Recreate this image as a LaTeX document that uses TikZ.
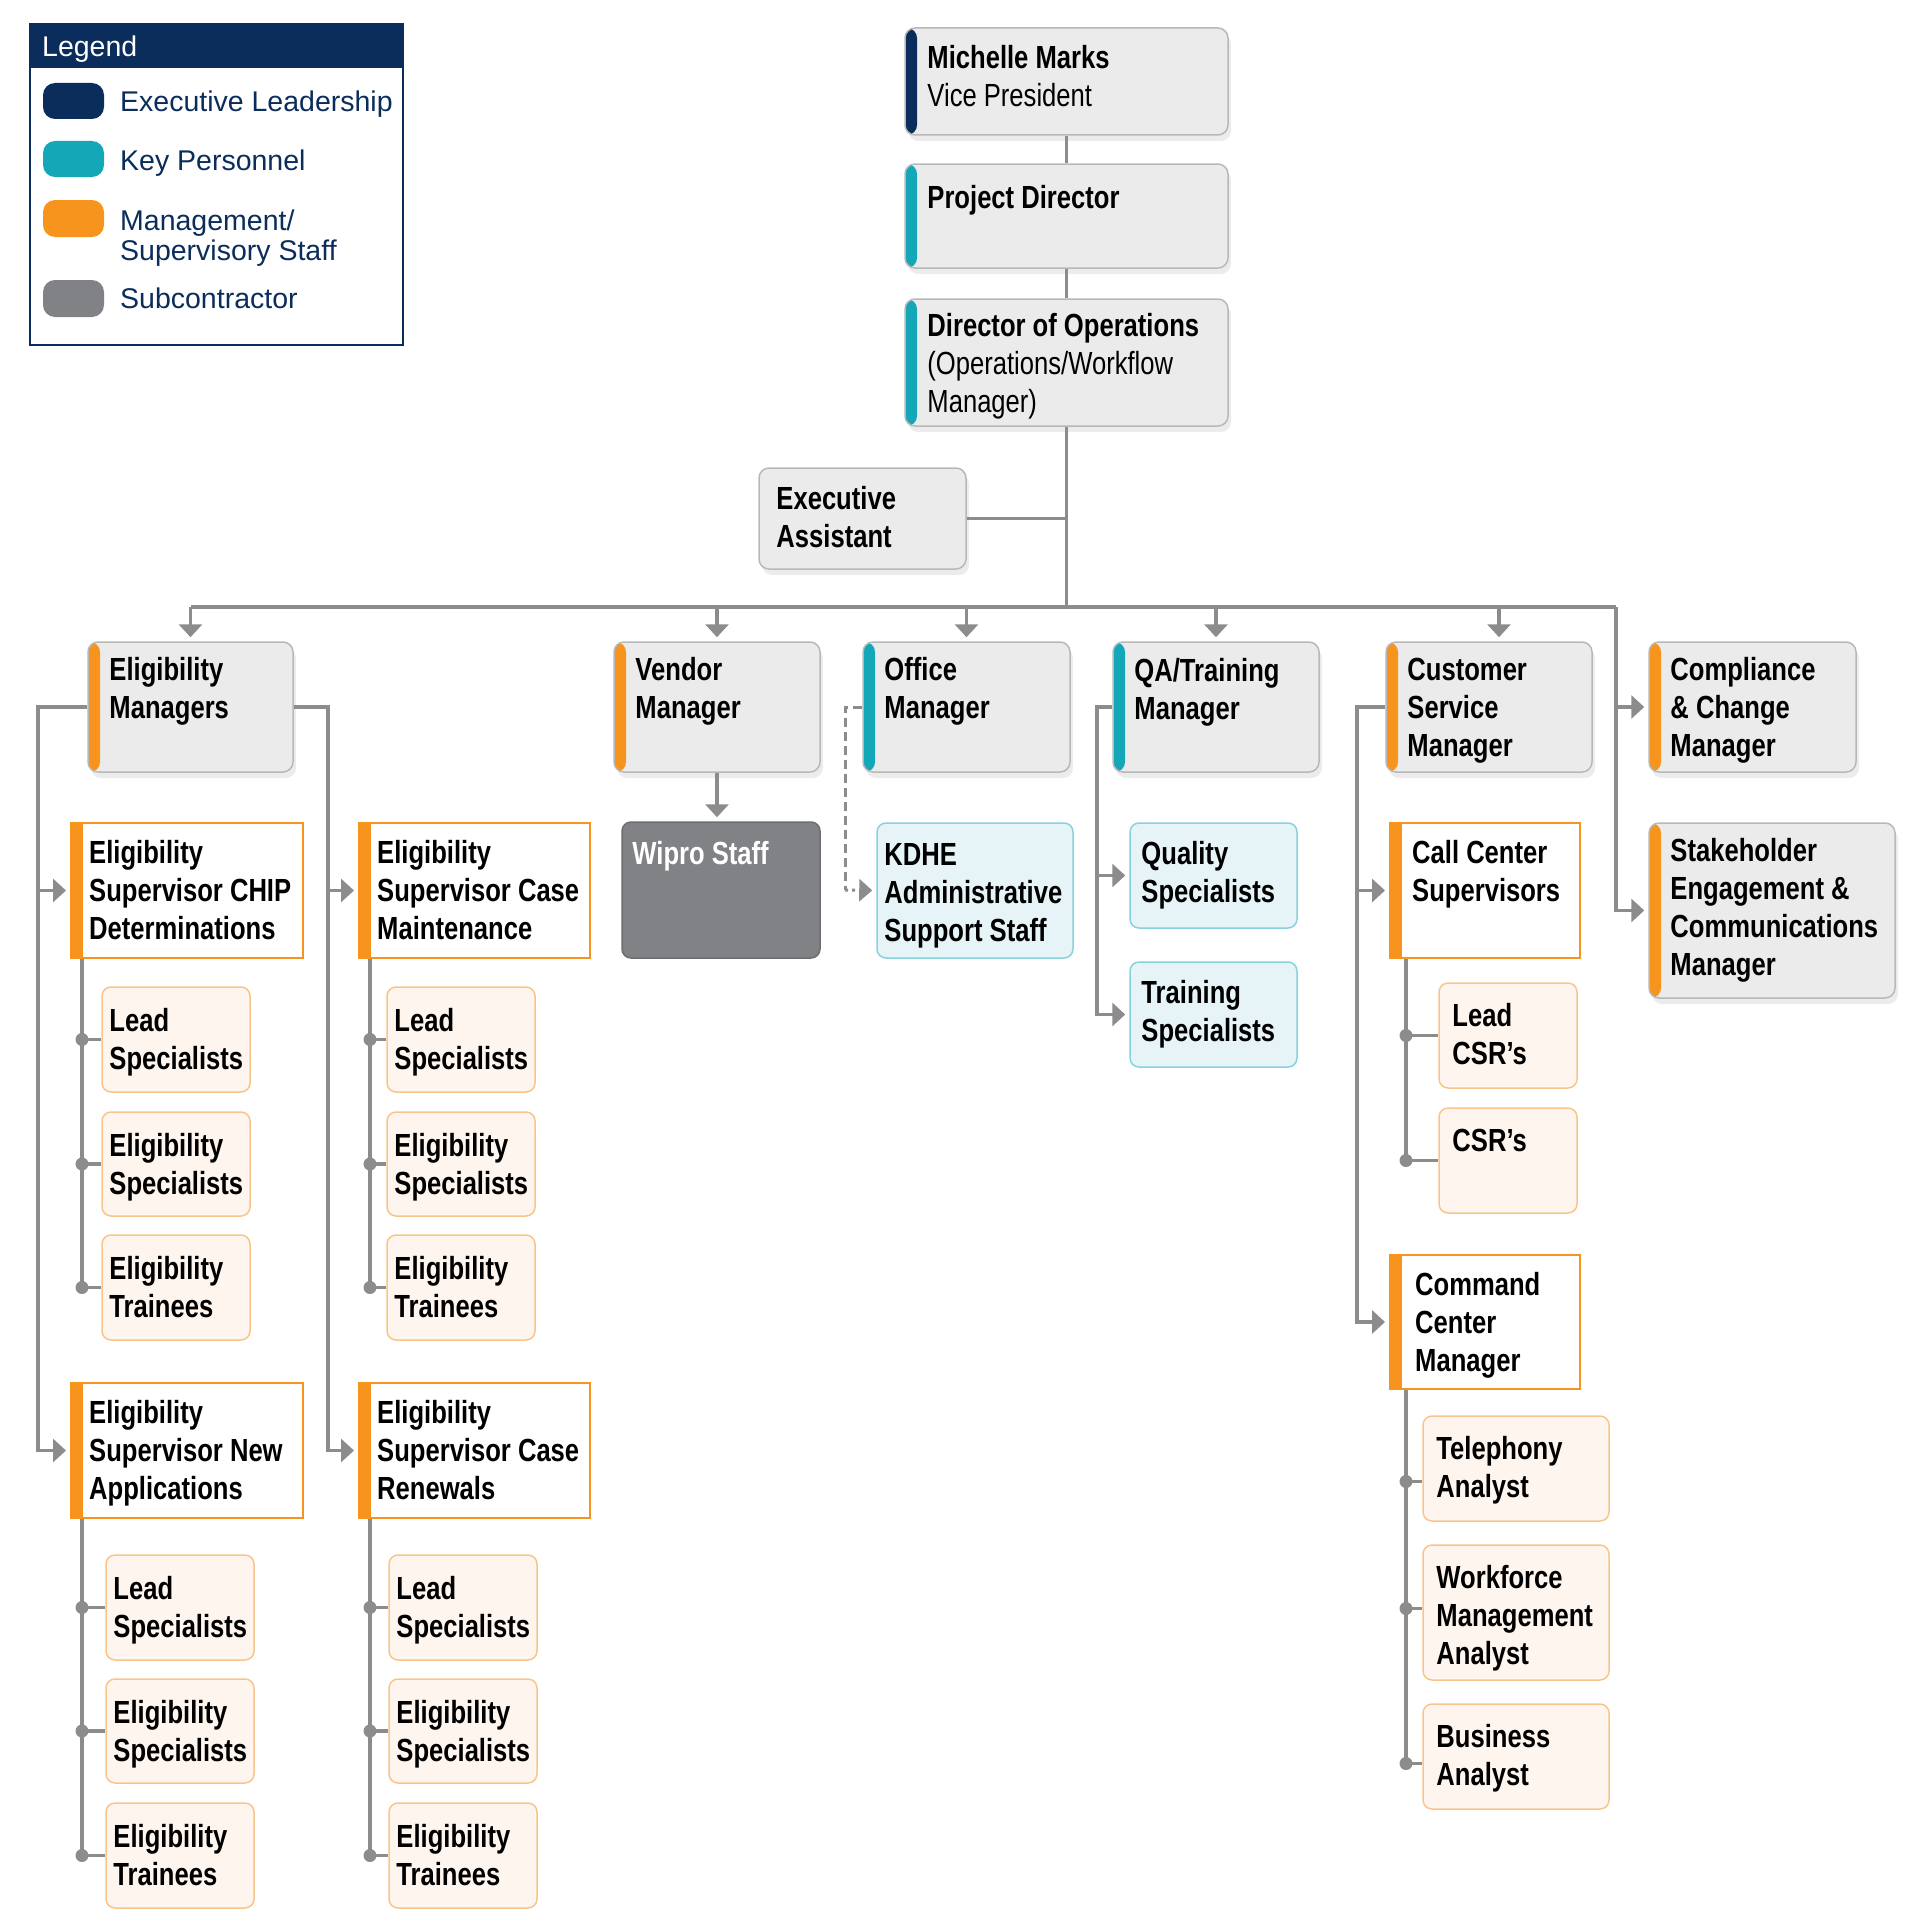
\documentclass[tikz,border=0pt]{standalone}
\usepackage{fontspec}
\setmainfont{Liberation Sans}[FakeStretch=0.8]
\newfontfamily\legfont{Liberation Sans}
\usetikzlibrary{arrows.meta,shadows,fit,calc}
\definecolor{navy}{HTML}{0B2D5B}
\definecolor{teal}{HTML}{13A7B8}
\definecolor{orng}{HTML}{F7941D}
\definecolor{subgray}{HTML}{808285}
\definecolor{subedge}{HTML}{6D6E70}
\definecolor{lgray}{HTML}{8C8C8C}
\definecolor{boxgray}{HTML}{EBEBEB}
\definecolor{boxedge}{HTML}{B8B8B8}
\definecolor{leaffill}{HTML}{FEF6EE}
\definecolor{leafedge}{HTML}{F9C48B}
\definecolor{bluefill}{HTML}{E6F4F8}
\definecolor{blueedge}{HTML}{86D3DD}
\newcommand\fstrut{\rule{0pt}{26pt}}
\newcommand\obox[9]{%
  \node[#1, fit={(#3,#4) (#5,#6)}] (#2) {};
  \node[txt] (#2t) at ([xshift=#7pt,yshift=-#8pt]#2.north west) {\fstrut #9};}
\begin{document}
\begin{tikzpicture}[x=1pt,y=-1pt,
  txt/.style={anchor=north west, inner sep=0pt, align=left, font=\bfseries\fontsize{32}{38}\selectfont, text=black},
  leftbar/.style={path picture={\fill[#1] (path picture bounding box.north west) rectangle ([xshift=12pt]path picture bounding box.south west);}},
  gb/.style={rounded corners=10pt, fill=boxgray, draw=boxedge, line width=1.5pt, inner sep=0pt,
     drop shadow={shadow xshift=3pt, shadow yshift=-6pt, opacity=0.15}},
  sb/.style={fill=white, draw=orng, line width=2pt, inner sep=0pt, leftbar=orng},
  lb/.style={rounded corners=9pt, fill=leaffill, draw=leafedge, line width=1.5pt, inner sep=0pt},
  bb/.style={rounded corners=9pt, fill=bluefill, draw=blueedge, line width=1.5pt, inner sep=0pt},
  wb/.style={rounded corners=9pt, fill=subgray, draw=subedge, line width=1.5pt, inner sep=0pt},
  conn/.style={draw=lgray, line width=3.8pt},
  arr/.style={conn, -{Triangle[width=23pt,length=13pt]}, shorten >=4pt},
  dsh/.style={draw=lgray, line width=3pt, dash pattern=on 9pt off 5pt},
  dta/.style={draw=lgray, line width=3pt, dash pattern=on 3pt off 4pt, -{Triangle[width=22pt,length=13pt]}, shorten >=4pt},
  dot/.style={fill=lgray},
  legt/.style={font=\legfont\fontsize{28.5}{30}\selectfont, text=navy, inner sep=0pt, align=left},
  sw/.style={rounded corners=12pt, inner sep=0pt}
]
\useasboundingbox (0,0) rectangle (1920,1932);

% ---------- Legend ----------
\node[draw=navy, line width=2pt, fill=white, inner sep=0pt, fit={(30,24) (403,345)}] (leg) {};
\node[fill=navy, inner sep=0pt, fit={(30,24) (403,68)}] (leghead) {};
\node[legt, text=white, anchor=base west] (legtitle) at (42,57) {Legend};
\node[sw, fill=navy, fit={(43,83) (104,119)}] (sw1) {};
\node[sw, fill=teal, fit={(43,141) (104,177)}] (sw2) {};
\node[sw, fill=orng, fit={(43,200) (104,237)}] (sw3) {};
\node[sw, fill=subgray, fit={(43,280) (104,317)}] (sw4) {};
\node[legt, anchor=base west] (lt1) at (120,112) {Executive Leadership};
\node[legt, anchor=base west] (lt2) at (120,170) {Key Personnel};
\node[legt, anchor=north west] (lt3) at (120,207) {\rule{0pt}{23pt}Management/\\Supervisory Staff};
\node[legt, anchor=base west] (lt4) at (120,308) {Subcontractor};

% ---------- Top chain ----------
\obox{gb,leftbar=navy}{vp}{905}{28}{1228}{135}{23}{15}{Michelle Marks\\{\mdseries Vice President}}
\obox{gb,leftbar=teal}{pd}{905}{164}{1228}{268}{23}{19}{Project Director}
\obox{gb,leftbar=teal}{dops}{905}{299}{1228}{426}{23}{12}{Director of Operations\\{\mdseries (Operations/Workflow}\\{\mdseries Manager)}}
\obox{gb}{ea}{759}{468}{966}{569}{18}{16}{Executive\\Assistant}

% ---------- Manager row ----------
\obox{gb,leftbar=orng}{em}{88}{642}{293}{772}{22}{13}{Eligibility\\Managers}
\obox{gb,leftbar=orng}{vm}{614}{642}{820}{772}{22}{13}{Vendor\\Manager}
\obox{gb,leftbar=teal}{om}{863}{642}{1070}{772}{22}{13}{Office\\Manager}
\obox{gb,leftbar=teal}{qa}{1113}{642}{1319}{772}{22}{14}{QA/Training\\Manager}
\obox{gb,leftbar=orng}{csm}{1386}{642}{1592}{772}{22}{13}{Customer\\Service\\Manager}
\obox{gb,leftbar=orng}{ccm}{1649}{642}{1856}{772}{22}{13}{Compliance\\\& Change\\Manager}
\obox{gb,leftbar=orng}{sem}{1649}{823}{1895}{998}{22}{13}{Stakeholder\\Engagement \&\\Communications\\Manager}

% ---------- Supervisors ----------
\obox{sb}{chip}{71}{823}{303}{958}{19}{15}{Eligibility\\Supervisor CHIP\\Determinations}
\obox{sb}{cmaint}{359}{823}{590}{958}{19}{15}{Eligibility\\Supervisor Case\\Maintenance}
\obox{sb}{napp}{71}{1383}{303}{1518}{19}{15}{Eligibility\\Supervisor New\\Applications}
\obox{sb}{cren}{359}{1383}{590}{1518}{19}{15}{Eligibility\\Supervisor Case\\Renewals}
\obox{sb}{ccs}{1390}{823}{1580}{958}{23}{15}{Call Center\\Supervisors}
\obox{sb}{cmd}{1390}{1255}{1580}{1389}{26}{15}{Command\\Center\\Manager}

% ---------- Leaves ----------
\obox{lb}{l1a}{102}{987}{250}{1092}{8}{19}{Lead\\Specialists}
\obox{lb}{l1b}{102}{1112}{250}{1216}{8}{19}{Eligibility\\Specialists}
\obox{lb}{l1c}{102}{1235}{250}{1340}{8}{19}{Eligibility\\Trainees}
\obox{lb}{l2a}{387}{987}{535}{1092}{8}{19}{Lead\\Specialists}
\obox{lb}{l2b}{387}{1112}{535}{1216}{8}{19}{Eligibility\\Specialists}
\obox{lb}{l2c}{387}{1235}{535}{1340}{8}{19}{Eligibility\\Trainees}
\obox{lb}{l3a}{106}{1555}{254}{1660}{8}{19}{Lead\\Specialists}
\obox{lb}{l3b}{106}{1679}{254}{1783}{8}{19}{Eligibility\\Specialists}
\obox{lb}{l3c}{106}{1803}{254}{1908}{8}{19}{Eligibility\\Trainees}
\obox{lb}{l4a}{389}{1555}{537}{1660}{8}{19}{Lead\\Specialists}
\obox{lb}{l4b}{389}{1679}{537}{1783}{8}{19}{Eligibility\\Specialists}
\obox{lb}{l4c}{389}{1803}{537}{1908}{8}{19}{Eligibility\\Trainees}
\obox{lb}{lcsr}{1439}{983}{1577}{1088}{14}{18}{Lead\\CSR’s}
\obox{lb}{csr}{1439}{1108}{1577}{1213}{14}{18}{CSR’s}
\obox{lb}{tel}{1423}{1416}{1609}{1521}{14}{18}{Telephony\\Analyst}
\obox{lb}{wfm}{1423}{1545}{1609}{1680}{14}{18}{Workforce\\Management\\Analyst}
\obox{lb}{ban}{1423}{1704}{1609}{1809}{14}{18}{Business\\Analyst}

% ---------- Other staff ----------
\obox{wb}{wipro}{622}{822}{820}{958}{11}{17}{\textcolor{white}{Wipro Staff}}
\obox{bb}{kdhe}{877}{823}{1073}{958}{8}{17}{KDHE\\Administrative\\Support Staff}
\obox{bb}{qs}{1130}{823}{1297}{928}{12}{16}{Quality\\Specialists}
\obox{bb}{ts}{1130}{962}{1297}{1067}{12}{16}{Training\\Specialists}

% ---------- Connectors: top ----------
\coordinate (busy) at (0,607);
\coordinate (busL) at (191,607);
\coordinate (busR) at (1616,607);
\draw[conn] (vp.south) -- (pd.north);
\draw[conn] (pd.south) -- (dops.north);
\draw[conn] (dops.south) -- (dops.south |- busy);
\draw[conn] (ea.east) -- (ea.east -| dops.south);
\draw[conn] (busL) -- (busR);
\draw[arr] (em.north |- busy) -- (em.north);
\draw[arr] (vm.north |- busy) -- (vm.north);
\draw[arr] (om.north |- busy) -- (om.north);
\draw[arr] (qa.north |- busy) -- (qa.north);
\coordinate (csmN) at ([xshift=10pt]csm.north);
\draw[arr] (csmN |- busy) -- (csmN);
\draw[arr] (busR) |- (ccm.west);
\draw[arr] (busR) |- (sem.west);

% ---------- Eligibility branches ----------
\coordinate (emL) at (38,707);
\coordinate (emR) at (328,707);
\draw[arr] (em.west) -- (emL) |- (napp.west);
\draw[arr] (emL |- chip.west) -- (chip.west);
\draw[arr] (em.east) -- (emR) |- (cren.west);
\draw[arr] (emR |- cmaint.west) -- (cmaint.west);

\coordinate (chipS) at ([xshift=12pt]chip.south west);
\coordinate (cmaintS) at ([xshift=12pt]cmaint.south west);
\coordinate (nappS) at ([xshift=12pt]napp.south west);
\coordinate (crenS) at ([xshift=12pt]cren.south west);
\draw[conn] (chipS) -- (chipS |- l1c.west);
\draw[conn] (cmaintS) -- (cmaintS |- l2c.west);
\draw[conn] (nappS) -- (nappS |- l3c.west);
\draw[conn] (crenS) -- (crenS |- l4c.west);
\foreach \s/\l in {chipS/l1a,chipS/l1b,chipS/l1c,cmaintS/l2a,cmaintS/l2b,cmaintS/l2c,nappS/l3a,nappS/l3b,nappS/l3c,crenS/l4a,crenS/l4b,crenS/l4c}{
  \draw[conn] (\s |- \l.west) -- (\l.west);
  \fill[dot] (\s |- \l.west) circle (6.5pt);
}

% ---------- Vendor / Office / QA ----------
\draw[arr] (vm.south) -- (vm.south |- wipro.north);
\coordinate (omD) at (845,707);
\coordinate (kd) at (845,890);
\draw[dsh] (om.west) -- (omD) -- (kd);
\draw[dta] (kd) -- (kdhe.west);
\coordinate (qaL) at (1097,707);
\draw[arr] (qa.west) -- (qaL) |- (ts.west);
\draw[arr] (qaL |- qs.west) -- (qs.west);

% ---------- Customer service ----------
\coordinate (csL) at (1357,707);
\draw[arr] (csm.west) -- (csL) |- (cmd.west);
\draw[arr] (csL |- ccs.west) -- (ccs.west);
\coordinate (ccsS) at ([xshift=17pt]ccs.south west);
\coordinate (cmdS) at ([xshift=17pt]cmd.south west);
\coordinate (telD) at ([yshift=-13pt]tel.west);
\coordinate (wfmD) at ([yshift=4pt]wfm.west);
\coordinate (banD) at ([yshift=-7pt]ban.west);
\draw[conn] (ccsS) -- (ccsS |- csr.west);
\draw[conn] (cmdS) -- (cmdS |- banD);
\foreach \s/\l in {ccsS/lcsr.west,ccsS/csr.west,cmdS/telD,cmdS/wfmD,cmdS/banD}{
  \draw[conn] (\s |- \l) -- (\l);
  \fill[dot] (\s |- \l) circle (6.5pt);
}
\end{tikzpicture}
\end{document}
